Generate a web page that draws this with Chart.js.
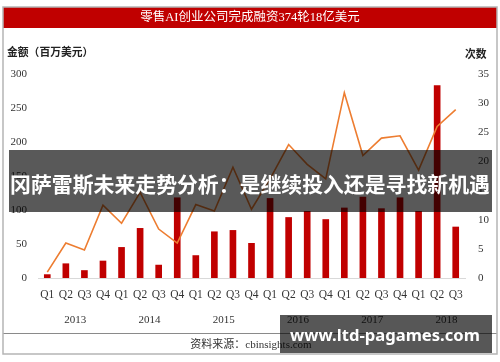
<!DOCTYPE html>
<html>
<head>
<meta charset="utf-8">
<script src="https://cdn.jsdelivr.net/npm/chart.js@4.4.0/dist/chart.umd.min.js"></script>
<style>
  html, body { margin: 0; padding: 0; background: #fff; }
  #wrap { width: 500px; height: 362px; }
</style>
</head>
<body>
<div id="wrap"><canvas id="c" width="500" height="362"></canvas></div>
<script>
const quarters = ['Q1','Q2','Q3','Q4','Q1','Q2','Q3','Q4','Q1','Q2','Q3','Q4',
                  'Q1','Q2','Q3','Q4','Q1','Q2','Q3','Q4','Q1','Q2','Q3']
const years = ['2013','2014','2015','2016','2017','2018']
const yearStart = [0, 4, 8, 12, 16, 20]
// funding amount, million USD (left axis)
const amounts = [5, 21, 11, 25, 45, 73, 19, 118, 33, 68, 70, 51,
                 117, 89, 98, 86, 103, 119, 102, 118, 98, 283, 75]
// number of rounds (right axis)
const rounds = [1, 6, 4.8, 12.5, 9.4, 14.7, 8.4, 6, 12.6, 11.5, 19, 11.8,
                17, 22.9, 19.5, 17, 31.8, 21, 24, 24.4, 18.5, 26, 28.9]

const title = '零售AI创业公司完成融资374轮18亿美元'
const leftTitle = '金额（百万美元）'
const rightTitle = '次数'
const source = '资料来源：cbinsights.com'
const banner = '冈萨雷斯未来走势分析：是继续投入还是寻找新机遇'
const site = 'www.ltd-pagames.com'

const serif = "'Liberation Serif', 'Noto Sans CJK SC', serif"
const cjk = "'Noto Sans CJK SC', sans-serif"

// fit text into a given width by picking the font size
const fitText = (ctx, txt, weight, family, width, cx, cy) => {
    ctx.font = weight + ' 20px ' + family
    const size = 20 * width / ctx.measureText(txt).width
    ctx.font = weight + ' ' + size.toFixed(2) + 'px ' + family
    ctx.fillText(txt, cx, cy)
}

const frame = {
    id: 'frame',
    beforeDraw(chart) {
        const ctx = chart.ctx
        ctx.save()
        ctx.fillStyle = '#fff'
        ctx.fillRect(0, 0, 500, 362)
        ctx.fillStyle = '#c00000'
        ctx.fillRect(3, 7, 494, 21)
        ctx.fillStyle = '#fff'
        ctx.textAlign = 'center'
        ctx.textBaseline = 'middle'
        ctx.font = '12.5px ' + serif
        ctx.fillText(title, 250, 17.5)

        ctx.fillStyle = '#222'
        ctx.font = 'bold 10.8px ' + cjk
        ctx.textAlign = 'left'
        ctx.fillText(leftTitle, 7, 52)
        ctx.fillText(rightTitle, 465, 54)
        ctx.restore()
    },
    afterDraw(chart) {
        const ctx = chart.ctx
        const x = chart.scales.x
        ctx.save()
        // year labels under each group of four quarters
        ctx.fillStyle = '#333'
        ctx.font = '11px ' + serif
        ctx.textAlign = 'center'
        ctx.textBaseline = 'middle'
        years.forEach((yr, i) => {
            const cx = (x.getPixelForValue(yearStart[i]) + x.getPixelForValue(yearStart[i] + 3)) / 2
            ctx.fillText(yr, cx, 320)
        })
        ctx.strokeStyle = '#8a8a8a'
        ctx.lineWidth = 1
        ctx.beginPath()
        ctx.moveTo(3, 333.5)
        ctx.lineTo(497, 333.5)
        ctx.stroke()
        ctx.font = '11px ' + serif
        ctx.fillText(source, 251, 345)

        ctx.strokeStyle = '#b5b5b5'
        ctx.lineWidth = 1.5
        ctx.strokeRect(3, 7, 494, 347)

        // watermark band across the middle
        ctx.fillStyle = 'rgba(0,0,0,0.65)'
        ctx.fillRect(9, 150, 483, 62)
        ctx.fillStyle = '#fff'
        fitText(ctx, banner, 'bold', cjk, 480, 250, 184)

        // site watermark bottom right
        ctx.fillStyle = 'rgba(0,0,0,0.66)'
        ctx.fillRect(280, 315, 212, 38)
        ctx.fillStyle = '#fff'
        fitText(ctx, site, 'bold', "'Noto Sans', sans-serif", 190, 385, 336)
        ctx.restore()
    }
}

new Chart(document.getElementById('c'), {
    type: 'bar',
    data: {
        labels: quarters,
        datasets: [{
            type: 'line',
            data: rounds,
            yAxisID: 'y1',
            borderColor: '#ed7d31',
            borderWidth: 1.6,
            pointRadius: 0,
            tension: 0,
            order: 0
        }, {
            type: 'bar',
            data: amounts,
            yAxisID: 'y',
            backgroundColor: '#c00000',
            barThickness: 6,
            order: 1
        }]
    },
    options: {
        responsive: false,
        animation: false,
        devicePixelRatio: 1,
        layout: { padding: { top: 74, bottom: 54, left: 0, right: 0 } },
        plugins: { legend: { display: false }, tooltip: { enabled: false } },
        scales: {
            x: {
                offset: true,
                grid: { display: false, drawTicks: false },
                border: { color: '#d9d9d9' },
                ticks: { font: { family: serif, size: 11.5 }, color: '#333', padding: 10, maxRotation: 0, autoSkip: false },
                afterFit: s => { s.height = 30 }
            },
            y: {
                position: 'left',
                min: 0, max: 300,
                grid: { display: false, drawTicks: false },
                border: { display: false },
                ticks: { stepSize: 50, font: { family: serif, size: 11 }, color: '#333', padding: 11 },
                afterFit: s => { s.width = 38 }
            },
            y1: {
                position: 'right',
                min: 0, max: 35,
                grid: { display: false, drawTicks: false },
                border: { display: false },
                ticks: { stepSize: 5, font: { family: serif, size: 11 }, color: '#333', padding: 13 },
                afterFit: s => { s.width = 35 }
            }
        }
    },
    plugins: [frame]
})
</script>
</body>
</html>
